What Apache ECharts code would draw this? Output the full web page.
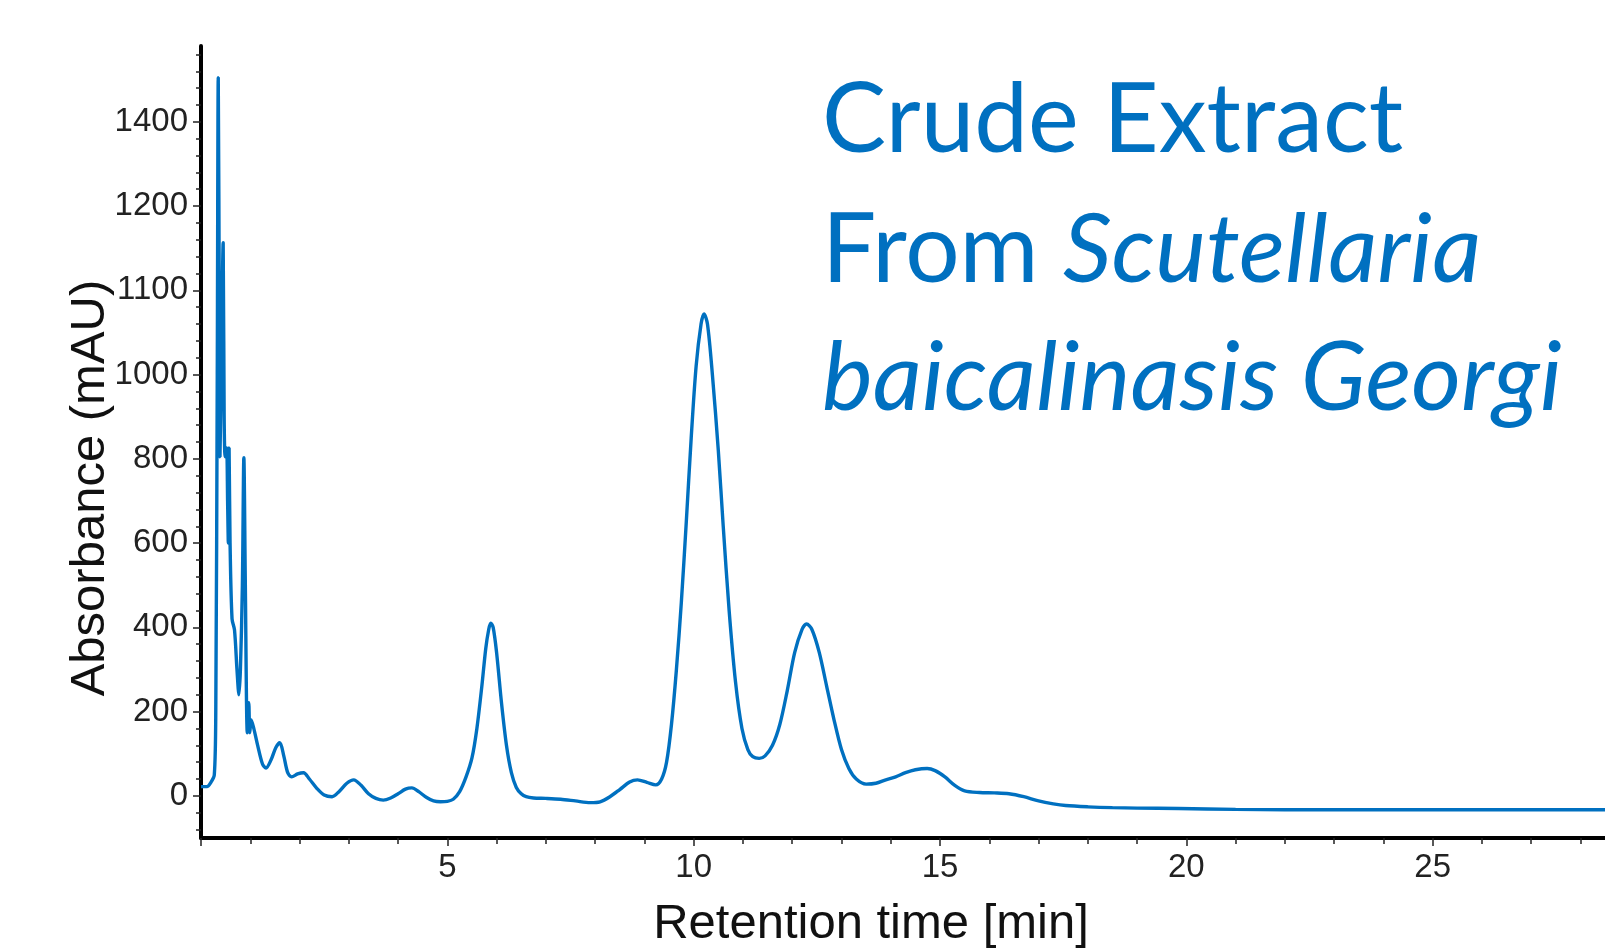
<!DOCTYPE html>
<html>
<head>
<meta charset="utf-8">
<title>Crude Extract HPLC</title>
<script src="https://cdn.jsdelivr.net/npm/echarts@6/dist/echarts.min.js"></script>
<style>
html,body{margin:0;padding:0;background:#fff;}
.main{width:1605px;height:950px;}
</style>
</head>
<body>
<div class="main"></div>
<script>
// retention time (min) and absorbance
var timeMin=[0,0.12,0.2,0.27,0.3,0.33,0.35,0.37,0.385,0.41,0.45,0.47,0.49,0.52,0.54,0.555,0.57,0.59,0.63,0.68,0.73,0.77,0.8,0.84,0.87,0.9,0.94,0.97,0.99,1.02,1.07,1.15,1.25,1.32,1.42,1.52,1.6,1.68,1.76,1.84,1.96,2.08,2.2,2.35,2.5,2.66,2.8,2.96,3.1,3.25,3.4,3.55,3.7,3.85,4.0,4.15,4.28,4.42,4.58,4.72,4.86,5.0,5.12,5.25,5.38,5.5,5.6,5.7,5.78,5.84,5.88,5.93,6.0,6.1,6.2,6.3,6.4,6.5,6.6,6.75,7.0,7.3,7.6,7.9,8.1,8.3,8.5,8.7,8.86,9.05,9.23,9.35,9.45,9.55,9.65,9.75,9.85,9.95,10.05,10.15,10.21,10.28,10.38,10.5,10.6,10.72,10.85,10.98,11.1,11.2,11.33,11.45,11.6,11.75,11.9,12.05,12.2,12.29,12.4,12.55,12.7,12.85,13.0,13.15,13.3,13.5,13.7,13.9,14.1,14.3,14.5,14.74,14.9,15.1,15.3,15.5,15.8,16.1,16.4,16.7,17.0,17.3,17.55,18.0,18.5,19.0,19.84,21,22,24,26,28.5,30];
var absorb=[22,22,32,50,200,1000,1705,1200,805,1000,1313,900,805,826,700,600,826,600,420,394,300,240,300,500,803,500,150,221,150,180,161,120,75,66,85,115,126,95,55,45,52,55,40,18,2,-2,10,30,38,25,5,-6,-10,-5,5,16,19,10,-4,-12,-14,-13,-8,10,45,90,160,260,350,395,410,400,340,220,120,55,20,5,-2,-5,-6,-8,-12,-16,-14,-2,15,33,38,32,26,40,80,170,300,460,650,850,1020,1120,1144,1120,1000,820,640,440,270,160,110,93,89,95,120,170,250,340,395,408,395,340,260,180,110,65,40,28,30,38,45,55,62,65,60,45,25,12,8,7,5,-2,-12,-19,-23,-26,-28,-29,-30,-32,-33,-33,-33,-33,-33];
// the y ticks are evenly spaced but labelled as in the original figure
var yTickPos=[0,200,400,600,800,1000,1200,1400,1600];
var yTickText=['0','200','400','600','800','1000','1100','1200','1400'];
var yMinorPos=[-80,-40,40,80,120,160,240,280,320,360,440,480,520,560,640,680,720,760,840,880,920,960,1040,1080,1120,1160,1240,1280,1320,1360,1440,1480,1520,1560,1640,1680,1720,1760];
var titleLines=['Crude Extract','From {i|Scutellaria}','{i|baicalinasis Georgi}'];

var blue='#0070c0';
var tickFont='Liberation Sans, Arial, sans-serif';
var myChart=echarts.init(document.querySelector('.main'));
var pts=timeMin.map(function(t,i){return [t,absorb[i]];});

var option={
  animation:false,
  backgroundColor:'#fff',
  grid:{left:201,right:-74,top:46,bottom:112,outerBoundsMode:'none',containLabel:false},
  xAxis:{
    type:'value',min:0,max:30,interval:5,
    axisLine:{onZero:false,lineStyle:{color:'#000',width:4}},
    axisTick:{length:8,lineStyle:{color:'#222',width:1.5}},
    minorTick:{show:true,splitNumber:5,length:6,lineStyle:{color:'#222',width:1.5}},
    splitLine:{show:false},
    axisLabel:{showMinLabel:false,showMaxLabel:false,margin:13,fontSize:33,color:'#222',fontFamily:tickFont}
  },
  yAxis:[{
    type:'value',min:-100,max:1780,position:'left',
    axisLine:{show:true,onZero:false,lineStyle:{color:'#000',width:4}},
    axisTick:{show:true,length:8,customValues:yTickPos,lineStyle:{color:'#222',width:1.5}},
    splitLine:{show:false},
    axisLabel:{
      customValues:yTickPos,margin:13,fontSize:33,color:'#222',fontFamily:tickFont,
      formatter:function(v){return yTickText[yTickPos.indexOf(v)];}
    }
  },{
    type:'value',min:-100,max:1780,position:'left',
    axisLine:{show:false,onZero:false},
    axisTick:{show:true,length:5,customValues:yMinorPos,lineStyle:{color:'#222',width:1.5}},
    axisLabel:{show:false},
    splitLine:{show:false}
  }],
  graphic:[
    {type:'text',x:871,y:924,style:{text:'Retention time [min]',fill:'#111',font:'49px Liberation Sans',align:'center',verticalAlign:'middle'}},
    {type:'text',x:90,y:488,rotation:Math.PI/2,style:{text:'Absorbance (mAU)',fill:'#111',font:'49px Liberation Sans',align:'center',verticalAlign:'middle'}},
    {type:'text',x:822,y:121,style:{text:titleLines[0],fill:blue,font:'96px Lato',verticalAlign:'middle'}},
    {type:'text',x:822,y:251,style:{text:titleLines[1],fill:blue,font:'96px Lato',verticalAlign:'middle',
      rich:{i:{fill:blue,fontSize:96,fontFamily:'Lato',fontStyle:'italic'}}}},
    {type:'text',x:822,y:379,style:{text:titleLines[2],fill:blue,font:'96px Lato',verticalAlign:'middle',
      rich:{i:{fill:blue,fontSize:96,fontFamily:'Lato',fontStyle:'italic'}}}}
  ],
  series:[{
    type:'line',
    data:pts,
    showSymbol:false,
    smooth:0.3,
    lineStyle:{color:blue,width:3.4},
    itemStyle:{color:blue}
  }]
};
myChart.setOption(option);
</script>
</body>
</html>
